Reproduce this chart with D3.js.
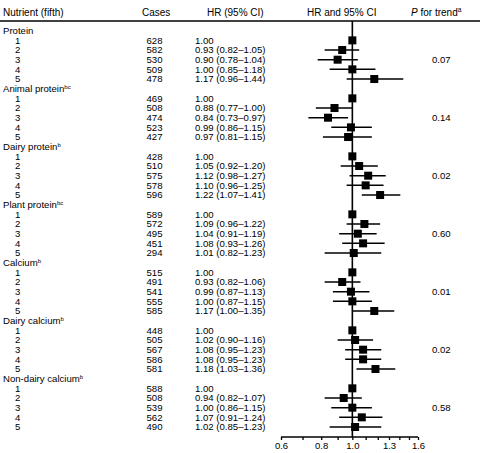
<!DOCTYPE html>
<html><head><meta charset="utf-8">
<script src="https://cdn.jsdelivr.net/npm/d3@7"></script>
<style>
body{margin:0;background:#fff;}
text{font-family:"Liberation Sans",Arial,Helvetica,sans-serif;fill:#000;}
</style></head>
<body><svg id="c" width="480" height="453"></svg>
<script>
const nutrients = ["Protein","Animal protein","Dairy protein","Plant protein","Calcium","Dairy calcium","Non-dairy calcium"];
const superscripts = ["","bc","b","bc","b","b","b"];
const fifths = ["1","2","3","4","5"];
const cases = [
  [628,582,530,509,478],
  [469,508,474,523,427],
  [428,510,575,578,596],
  [589,572,495,451,294],
  [515,491,541,555,585],
  [448,505,567,586,581],
  [588,508,539,562,490]
];
const hr = [
  [1.00,0.93,0.90,1.00,1.17],
  [1.00,0.88,0.84,0.99,0.97],
  [1.00,1.05,1.12,1.10,1.22],
  [1.00,1.09,1.04,1.08,1.01],
  [1.00,0.93,0.99,1.00,1.17],
  [1.00,1.02,1.08,1.08,1.18],
  [1.00,0.94,1.00,1.07,1.02]
];
const ciLow = [
  [null,0.82,0.78,0.85,0.96],
  [null,0.77,0.73,0.86,0.81],
  [null,0.92,0.98,0.96,1.07],
  [null,0.96,0.91,0.93,0.82],
  [null,0.82,0.87,0.87,1.00],
  [null,0.90,0.95,0.95,1.03],
  [null,0.82,0.86,0.91,0.85]
];
const ciHigh = [
  [null,1.05,1.04,1.18,1.44],
  [null,1.00,0.97,1.15,1.15],
  [null,1.20,1.27,1.25,1.41],
  [null,1.22,1.19,1.26,1.23],
  [null,1.06,1.13,1.15,1.35],
  [null,1.16,1.23,1.23,1.36],
  [null,1.07,1.15,1.24,1.23]
];
const pTrend = ["0.07","0.14","0.02","0.60","0.01","0.02","0.58"];
const axisTicks = [0.6,0.7,0.8,0.9,1.0,1.1,1.2,1.3,1.4,1.5,1.6];
const axisTickLabels = ["0.6","0.8","1.0","1.3","1.6"];

const svg = d3.select("#c");
const nRows = nutrients.length * 6;
const y = d3.scalePoint().domain(d3.range(nRows)).range([30.7, 427]);
const x = d3.scaleLog().domain([0.6, 1.6]).range([281, 418]);
const fs = 9.6;
const off = 3.4;

// header
const hdr = svg.append("g").attr("font-size", 10);
hdr.append("text").attr("x", 3).attr("y", 15.5).text("Nutrient (fifth)");
hdr.append("text").attr("x", 142).attr("y", 15.5).text("Cases");
hdr.append("text").attr("x", 207).attr("y", 15.5).text("HR (95% CI)");
hdr.append("text").attr("x", 307).attr("y", 15.5).text("HR and 95% CI");
const pt = hdr.append("text").attr("x", 411).attr("y", 15.5);
pt.append("tspan").attr("font-style", "italic").text("P");
pt.append("tspan").text(" for trend");
pt.append("tspan").attr("font-size", 6.5).attr("dy", -4).text("a");
svg.append("line").attr("x1", 0).attr("x2", 480).attr("y1", 21).attr("y2", 21)
  .attr("stroke", "#000").attr("stroke-width", 1.6);

// reference line
svg.append("line").attr("x1", x(1)).attr("x2", x(1)).attr("y1", 21).attr("y2", 437)
  .attr("stroke", "#000").attr("stroke-width", 1.6);

const g = svg.append("g").attr("font-size", fs);
nutrients.forEach((name, gi) => {
  const base = gi * 6;
  const t = g.append("text").attr("x", 3).attr("y", y(base) + off);
  t.append("tspan").text(name);
  if (superscripts[gi]) t.append("tspan").attr("font-size", 6).attr("dy", -3.5).text(superscripts[gi]);
  fifths.forEach((f, i) => {
    const yy = y(base + 1 + i);
    g.append("text").attr("x", 15).attr("y", yy + off).text(f);
    g.append("text").attr("x", 146.5).attr("y", yy + off).text(cases[gi][i]);
    const lo = ciLow[gi][i], hi = ciHigh[gi][i], h = hr[gi][i];
    const s = lo == null ? h.toFixed(2) : `${h.toFixed(2)} (${lo.toFixed(2)}\u2013${hi.toFixed(2)})`;
    g.append("text").attr("x", 195).attr("y", yy + off).text(s);
    if (lo != null) {
      svg.append("line").attr("x1", x(lo)).attr("x2", x(hi)).attr("y1", yy).attr("y2", yy)
        .attr("stroke", "#000").attr("stroke-width", 1.5);
    }
    svg.append("rect").attr("x", x(h) - 4).attr("y", yy - 4).attr("width", 8).attr("height", 8).attr("fill", "#000");
  });
  g.append("text").attr("x", 432).attr("y", y(base + 3) + off).text(pTrend[gi]);
});

// axis
const ax = svg.append("g").attr("transform", "translate(0,437)")
  .call(d3.axisBottom(x).tickValues(axisTicks).tickSize(3).tickPadding(2)
    .tickFormat(d => { const s = d.toFixed(1); return axisTickLabels.includes(s) ? s : ""; }));
ax.select(".domain").attr("stroke", "#000").attr("stroke-width", 1.5).attr("d", `M${x(0.6)},0H${x(1.6)}`);
ax.selectAll(".tick line").attr("stroke", "#000").attr("stroke-width", 1.3);
ax.selectAll(".tick text").attr("font-size", 9.5).attr("font-family", "Liberation Sans, Arial, sans-serif").attr("fill", "#000");
</script></body></html>
